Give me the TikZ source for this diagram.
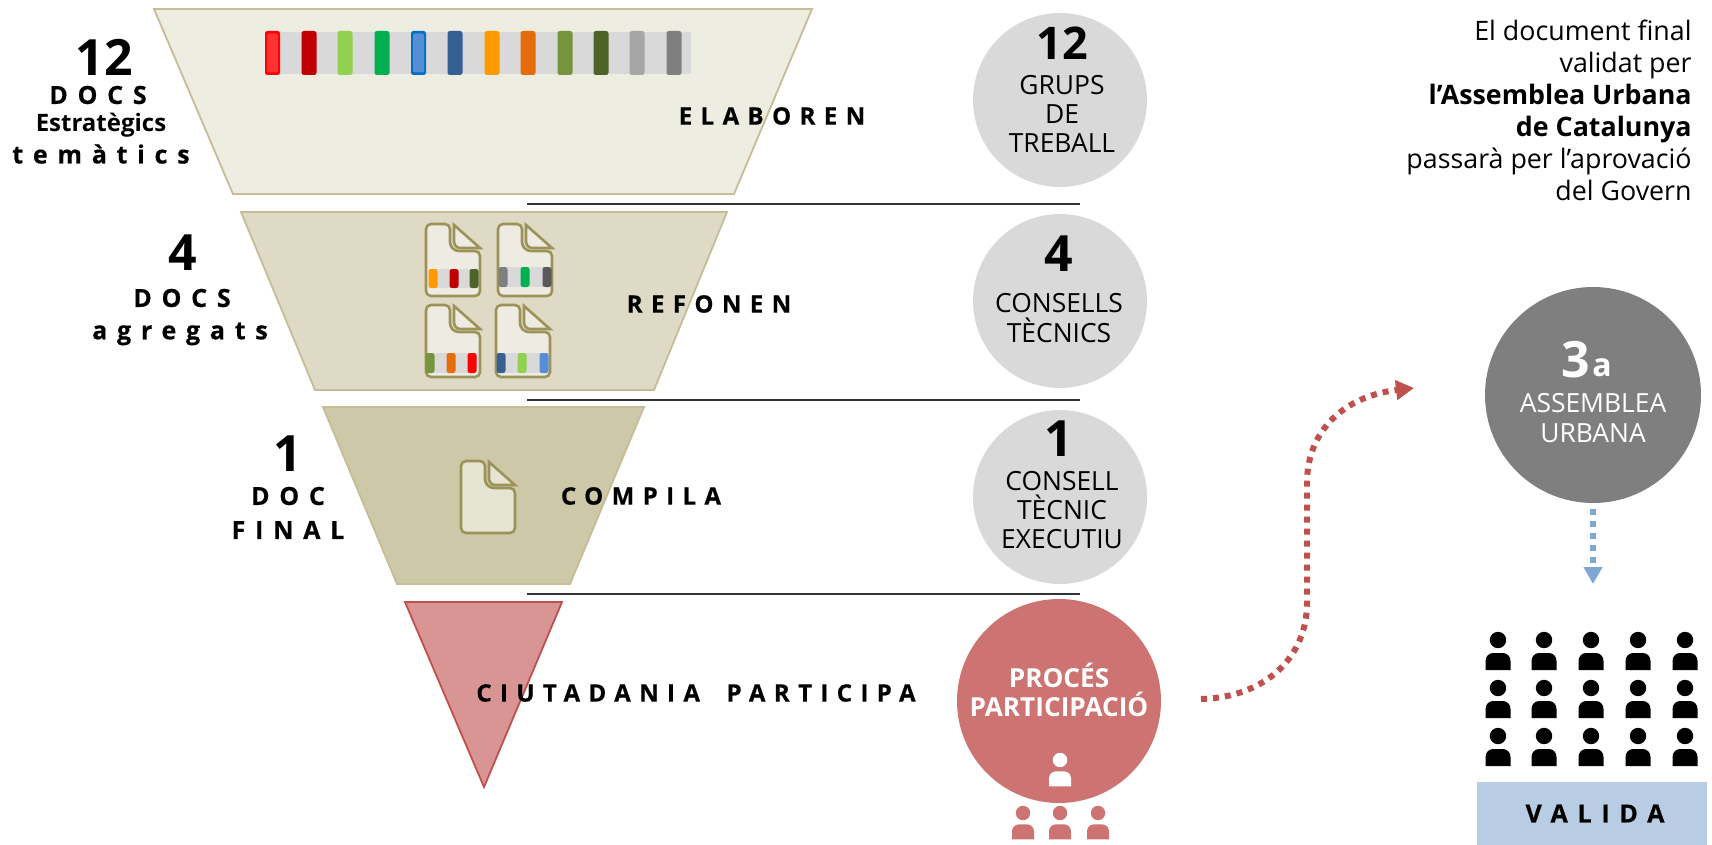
\documentclass[tikz,border=0pt]{standalone}
\usepackage{fontspec}
\setmainfont{Open Sans}
\newfontfamily\spA[LetterSpace=35,BoldFeatures={FakeBold=0.5}]{Open Sans}
\newfontfamily\spB[LetterSpace=39,BoldFeatures={FakeBold=0.5}]{Open Sans}
\usetikzlibrary{arrows.meta}
\definecolor{bandgrey}{HTML}{D9D9D9}
\definecolor{edgeA}{HTML}{C4BD97}
\definecolor{docline}{HTML}{9C9358}
\definecolor{redA}{HTML}{C0504D}
\definecolor{redB}{HTML}{CD7371}
\definecolor{cRed}{HTML}{FF0000}
\definecolor{cDkRed}{HTML}{C00000}
\definecolor{cLime}{HTML}{92D050}
\definecolor{cGreen}{HTML}{00B050}
\definecolor{cBlue}{HTML}{558ED5}
\definecolor{cBlueE}{HTML}{0070C0}
\definecolor{cRedF}{HTML}{FF3333}
\definecolor{cNavy}{HTML}{376092}
\definecolor{cOrange}{HTML}{FF9900}
\definecolor{cDkOr}{HTML}{E46C0A}
\definecolor{cOlive}{HTML}{77933C}
\definecolor{cDkOl}{HTML}{4F6228}
\definecolor{cGr}{HTML}{A6A6A6}
\definecolor{cDkGr}{HTML}{7F7F7F}
\definecolor{cDkr}{HTML}{595959}
\definecolor{fA}{HTML}{EDEDE1}
\definecolor{fB}{HTML}{DFDAC6}
\definecolor{fC}{HTML}{CDC8A8}
\definecolor{fD}{HTML}{D99594}
\definecolor{docf}{HTML}{EEEBE3}
\definecolor{docg}{HTML}{E6E4D2}
\definecolor{valb}{HTML}{B8CCE4}
\definecolor{arrb}{HTML}{7FA6D4}
\newcommand{\fs}[2]{\fontsize{#1}{#2}\selectfont}
\newcommand{\pill}[5]{\fill[#1,rounded corners=1.2] (#2-#5,#3) rectangle (#2+#5,#4);}
% person: x y scale colour
\newcommand{\person}[4]{%
  \fill[#4] (#1,#2) circle[radius=8.2*#3*0.5pt];
  \fill[#4] (#1-12.5*#3,#2+30*#3) -- (#1-12.5*#3,#2+21*#3) to[out=90,in=180] (#1-5*#3,#2+13*#3) -- (#1+5*#3,#2+13*#3) to[out=0,in=90] (#1+12.5*#3,#2+21*#3) -- (#1+12.5*#3,#2+30*#3) -- cycle;}
% doc icon: x y (top-left), fill
\newcommand{\docicon}[3]{%
  \begin{scope}[shift={(#1,#2)}]
    \draw[docline,line width=1.3,fill=#3,line join=round,rounded corners=2.5] (0,0) -- (24,0) [sharp corners] -- (24,18) to[out=-90,in=180] (33,27) [rounded corners=2.5] -- (54,27) -- (54,72) -- (0,72) -- cycle;
    \draw[docline,line width=1.3,fill=#3,line join=miter] (28,1) -- (54,24) -- (34,24) to[out=180,in=-90] (28,17) -- cycle;
  \end{scope}}
\tikzset{
  funnelA/.style={draw=edgeA,line width=0.9},
  sepline/.style={draw=black!80,line width=0.6},
  disc/.style={circle,inner sep=0pt,minimum size=#1},
  sp/.style={inner sep=0pt,font=\spA\bfseries\fs{12}{14}},
  sq/.style={inner sep=0pt,font=\spB\bfseries\fs{12.5}{14}},
  num/.style={inner sep=0pt,font=\bfseries\fs{25}{28}},
  cir/.style={inner sep=0pt,align=center,font=\fs{13.2}{14.7}},
}
\begin{document}
\begin{tikzpicture}[x=0.5pt,y=-0.5pt]
\useasboundingbox (0,0) rectangle (1712,845);
% funnels
\filldraw[funnelA,fill=fA] (154,9) -- (812,9) -- (734,194) -- (233,194) -- cycle;
\filldraw[funnelA,fill=fB] (241,212) -- (727,212) -- (654,390) -- (315,390) -- cycle;
\filldraw[funnelA,fill=fC] (323,407) -- (644,407) -- (570,584) -- (397,584) -- cycle;
\filldraw[draw=redA,line width=0.9,fill=fD] (405,602) -- (562,602) -- (484,787) -- cycle;
% separators
\coordinate (s1a) at (527,204); \coordinate (s1b) at (1080,204);
\coordinate (s2a) at (527,400); \coordinate (s2b) at (1080,400);
\coordinate (s3a) at (527,594); \coordinate (s3b) at (1080,594);
\draw[sepline] (s1a) -- (s1b);
\draw[sepline] (s2a) -- (s2b);
\draw[sepline] (s3a) -- (s3b);
% top band
\fill[bandgrey] (265,32) rectangle (691,74);
\foreach \c/\x in {cDkRed/309,cLime/345,cGreen/382,cNavy/455,cOrange/492,cDkOr/528,cOlive/565,cDkOl/601,cGr/637,cDkGr/674}{\pill{\c}{\x}{31}{75}{7.5}}
\fill[cRed,rounded corners=1.2] (265,31) rectangle (280,75);
\fill[cRedF,rounded corners=1] (267,33.5) rectangle (278,72.5);
\fill[cBlueE,rounded corners=1.2] (411,31) rectangle (426,75);
\fill[cBlue,rounded corners=1] (413,33.5) rectangle (424,72.5);
% doc icons
\docicon{426}{224}{docf}
\docicon{498}{224}{docf}
\docicon{426}{305}{docf}
\docicon{496}{305}{docf}
\docicon{461}{461}{docg}
\fill[bandgrey] (429,269) rectangle (478,288);
\pill{cOrange}{433}{269}{288}{4.5}\pill{cDkRed}{454}{269}{288}{4.5}\pill{cDkOl}{474}{269}{288}{4.5}
\fill[bandgrey] (499,267) rectangle (551,287);
\pill{cDkGr}{503}{267}{287}{4.5}\pill{cGreen}{525}{267}{287}{4.5}\pill{cDkr}{547}{267}{287}{4.5}
\fill[bandgrey] (427,353) rectangle (477,373);
\pill{cOlive}{430}{353}{373}{4.5}\pill{cDkOr}{451}{353}{373}{4.5}\pill{cRed}{472}{353}{373}{4.5}
\fill[bandgrey] (498,353) rectangle (548,373);
\pill{cNavy}{501}{353}{373}{4.5}\pill{cLime}{522}{353}{373}{4.5}\pill{cBlue}{544}{353}{373}{4.5}
% funnel labels
\node[sp] (lab1) at (772,116) {ELABOREN};
\node[sp] (lab2) at (709,304) {REFONEN};
\node[sp] (lab3) at (641,496) {COMPILA};
\node[sp] (lab4) at (696,693) {CIUTADANIA\hspace{6pt} PARTICIPA};
% left labels
\node[num] (n12) at (104,57) {12};
\node[sq] (d12) at (98,95) {DOCS};
\node[inner sep=0pt,font=\bfseries\fs{12}{14}] (e12) at (101,125) {Estratègics};
\node[sq] (t12) at (101,154) {temàtics};
\node[num] (n4) at (183,253) {4};
\node[sq] (d4) at (182,298) {DOCS};
\node[sq] (a4) at (180,334) {agregats};
\node[num] (n1) at (288,454) {1};
\node[sq] (d1) at (288,496) {DOC};
\node[sq] (f1) at (288,530) {FINAL};
% discs
\node[disc=87pt,fill=bandgrey] (c12) at (1060,100) {};
\node[disc=87pt,fill=bandgrey] (c4) at (1060,301) {};
\node[disc=87pt,fill=bandgrey] (c1) at (1060,497) {};
\node[disc=102pt,fill=redB] (cP) at (1059,701) {};
\node[disc=108pt,fill=cDkGr] (cA) at (1593,395) {};
\node[inner sep=0pt,font=\bfseries\fs{22.5}{26}] (c12n) at (1062,43) {12};
\node[cir] (c12t) at (1062,114) {GRUPS\\DE\\TREBALL};
\node[num] (c4n) at (1059,254) {4};
\node[cir] (c4t) at (1059,318) {CONSELLS\\TÈCNICS};
\node[num] (c1n) at (1059,439) {1};
\node[cir] (c1t) at (1062,510) {CONSELL\\TÈCNIC\\EXECUTIU};
\node[cir,text=white,font=\bfseries\fs{13.1}{14.7}] (cPt) at (1059,690) {PROCÉS\\PARTICIPACIÓ};
\node[inner sep=0pt,text=white,font=\bfseries\fs{25}{28}] (cAn) at (1576,360) {3};
\node[inner sep=0pt,text=white,font=\bfseries\fs{16}{18},anchor=base west] (cAa) at (1592,376) {a};
\node[cir,text=white] (cAt) at (1593,418) {ASSEMBLEA\\URBANA};
% persons
\person{1060}{760}{0.88}{white}
\person{1023}{813}{0.88}{redB}
\person{1060}{813}{0.88}{redB}
\person{1098}{813}{0.88}{redB}
\foreach \y in {640,688,736}{\foreach \x in {1498,1544,1591,1638,1685}{\person{\x}{\y}{1}{black}}}
% valida
\node[fill=valb,minimum width=115pt,minimum height=31.5pt,inner sep=0pt,font=\spB\bfseries\fs{12.5}{14}] (val) at (1592,813.5) {\hspace{3pt}VALIDA};
% top right text
\node[inner sep=0pt,anchor=north east,align=right,font=\fs{13.4}{16}] (note) at (1692,20) {El document final\\validat per\\\textbf{l’Assemblea Urbana}\\\textbf{de Catalunya}\\passarà per l’aprovació\\del Govern};
% arrows
\coordinate (r0) at (1201,699); \coordinate (r1) at (1414,388);
\draw[redA,line width=3,dash pattern=on 3 off 3,-{Triangle[length=9,width=9.5]}] (r0) .. controls (1268,697) and (1307,655) .. (1307,603) -- (1307,483) .. controls (1307,430) and (1345,396) .. (r1);
\coordinate (b0) at (1593,509); \coordinate (b1) at (1593,584);
\draw[arrb,line width=3,dash pattern=on 3 off 3,-{Triangle[length=8.5,width=9]}] (b0) -- (b1);
\end{tikzpicture}
\end{document}
